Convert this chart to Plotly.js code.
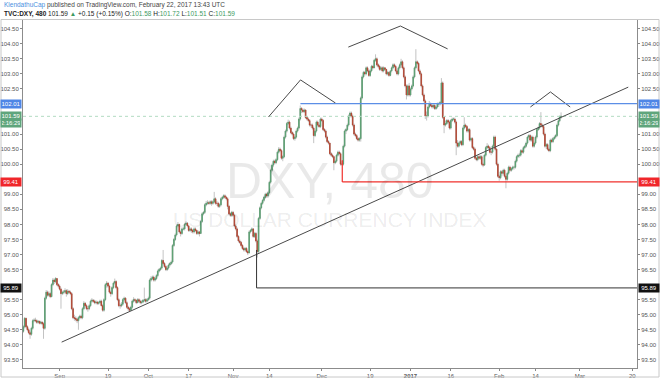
<!DOCTYPE html>
<html><head><meta charset="utf-8">
<script src="https://cdn.plot.ly/plotly-3.0.1.min.js"></script>
<style>html,body{margin:0;padding:0;background:#fff;}#chart{width:660px;height:378px;}</style>
</head><body><div id="chart"></div>
<script>
// ---- data (DXY, 8-hour bars, Aug 19 2016 -> Feb 22 2017) ----
const firstBarTime = '2016-08-19T00:00:00Z';
const barHours = 8;
const firstOpen = 94.45;
const closes = [
94.6,94.88,94.6,
94.5,94.4,94.35, 94.55,94.8,94.82, 94.8,94.75,94.78, 94.72,94.75,94.7, 94.55,95.55,95.75,
95.65,95.7,95.6, 96.0,96.15,96.1, 96.2,96.0,95.95, 95.85,95.7,95.75, 95.75,95.8,95.7,
95.78,95.75,95.7, 95.2,94.9,94.88, 94.85,94.8,94.9, 94.95,94.9,95.2, 95.38,95.3,95.2,
95.2,95.3,95.45, 95.48,95.45,95.4, 95.42,95.38,95.4, 95.45,95.3,95.15, 95.5,96.0,96.05,
95.95,95.75,95.7, 95.9,96.05,96.1, 95.9,95.5,95.3, 95.3,95.35,95.5, 95.55,95.4,95.25,
95.2,95.15,95.25, 95.45,95.5,95.48, 95.4,95.5,95.45, 95.4,95.42,95.48, 95.5,95.45,95.5,
95.55,96.15,96.2, 96.25,96.15,96.2, 96.3,96.45,96.5, 96.55,96.8,96.7, 96.6,96.5,96.55,
96.65,96.7,96.75, 97.3,97.5,97.65, 97.95,98.0,97.75, 97.7,97.85,97.85, 98.0,98.04,97.95,
97.8,97.85,97.8, 97.75,97.85,97.8, 97.7,97.75,97.7, 98.1,98.35,98.4, 98.65,98.7,98.72,
98.7,98.75,98.7, 98.75,98.85,98.7, 98.7,98.6,98.65, 98.85,98.9,98.95, 98.9,98.85,98.6,
98.35,98.3,98.4, 98.3,97.95,97.85, 97.6,97.45,97.4, 97.3,97.2,97.15, 97.2,97.1,97.05,
97.75,97.8,97.85, 97.6,97.7,97.45, 97.1,98.2,98.55, 98.7,98.8,98.9, 99.0,98.95,99.05,
99.4,99.8,99.97, 100.1,100.05,100.15, 100.4,100.5,100.45, 100.2,100.25,100.9, 101.1,101.35,101.4,
101.2,101.05,101.0, 100.85,100.9,101.1, 101.2,101.5,101.85, 101.8,101.75,101.8, 101.55,101.5,101.45,
101.3,101.3,101.2, 100.95,101.1,101.4, 101.3,101.25,101.5, 101.45,101.15,101.1, 100.9,100.75,100.7,
100.35,100.3,100.25, 100.05,100.1,100.3, 100.4,100.35,100.0, 100.0,100.6,101.1, 101.15,101.3,101.6,
101.7,101.6,101.3, 101.0,100.95,100.85, 100.8,100.85,102.2, 102.9,103.05,103.0, 103.2,103.1,102.95,
103.1,103.25,103.2, 103.45,103.5,103.3, 103.25,103.15,103.2, 103.1,103.2,103.15, 103.0,103.05,102.95,
103.1,103.2,103.3, 103.25,103.1,103.0, 103.2,103.3,103.4, 103.2,102.9,102.6, 102.3,102.6,102.3,
102.5,102.6,102.9, 103.2,103.4,103.35, 103.1,103.0,102.6, 102.3,102.1,101.6, 101.6,101.9,102.0,
101.95,101.9,101.95, 101.85,101.9,102.0, 102.0,102.05,102.7, 101.56,101.3,101.35, 101.45,101.4,101.2,
101.45,101.5,101.5, 101.4,100.7,100.6, 100.7,100.75,100.65, 101.2,101.3,101.25, 101.1,101.15,100.8,
100.85,100.55,100.5, 100.2,100.15,100.25, 100.2,100.25,100.0, 99.97,100.3,100.55, 100.6,100.55,100.4,
100.4,100.6,100.9, 100.5,100.0,99.6, 99.55,99.75,99.7, 99.8,99.6,99.5, 99.7,99.9,99.8,
99.85,99.9,99.9, 100.1,100.25,100.3, 100.3,100.45,100.4, 100.55,100.6,100.7, 100.9,100.95,100.8,
100.9,100.6,100.7, 100.9,101.15,101.2, 101.35,101.3,101.25, 101.0,100.6,100.65, 100.5,100.45,100.8,
100.75,100.85,100.9, 100.95,101.3,101.44, 101.58,101.59
];
const highs = [
94.65,94.92,94.9,
94.65,94.55,94.45, 94.6,94.85,94.88, 94.9,94.85,94.82, 94.8,94.8,94.78, 94.75,95.6,95.82,
95.8,95.78,95.75, 96.05,96.22,96.2, 96.25,96.22,96.05, 96.0,95.9,95.8, 95.82,95.88,95.85,
95.85,95.82,95.8, 95.75,95.25,95.0, 94.95,94.9,94.95, 95.0,95.0,95.25, 95.45,95.42,95.35,
95.28,95.35,95.5, 95.55,95.52,95.5, 95.48,95.46,95.45, 95.5,95.5,95.35, 95.55,96.05,96.12,
96.08,96.0,95.8, 95.95,96.1,96.2, 96.15,95.95,95.55, 95.38,95.42,95.55, 95.6,95.58,95.45,
95.3,95.25,95.3, 95.5,95.58,95.55, 95.5,95.55,95.55, 95.5,95.48,95.52, 95.9,95.55,95.55,
95.6,96.2,96.28, 96.3,96.3,96.25, 96.35,96.5,96.55, 96.6,96.85,97.15, 96.75,96.65,96.62,
96.7,96.75,96.8, 97.35,97.55,97.7, 98.0,98.08,98.02, 97.8,97.9,97.92, 98.05,98.1,98.08,
97.98,97.9,97.9, 97.85,97.9,97.9, 97.82,97.8,97.78, 98.15,98.4,98.45, 98.7,98.78,98.8,
98.78,98.8,98.8, 98.8,99.08,98.9, 98.78,98.75,98.7, 98.9,98.95,99.0, 99.0,98.95,98.9,
98.65,98.4,98.45, 98.45,98.35,98.0, 97.9,97.65,97.5, 97.45,97.35,97.25, 97.25,97.25,97.15,
97.8,97.85,97.9, 97.88,97.75,97.75, 97.5,98.25,98.6, 98.75,98.85,98.95, 99.05,99.05,99.1,
99.45,99.85,100.02, 100.15,100.15,100.2, 100.45,100.57,100.55, 100.5,100.3,100.95, 101.15,101.4,101.48,
101.45,101.25,101.1, 101.05,100.95,101.15, 101.25,101.55,101.95, 101.9,101.85,101.85, 101.82,101.6,101.55,
101.5,101.35,101.35, 101.25,101.15,101.45, 101.45,101.35,101.55, 101.55,101.5,101.2, 101.15,100.95,100.8,
100.7,100.4,100.35, 100.28,100.15,100.35, 100.45,100.45,100.4, 100.1,100.65,101.15, 101.2,101.35,101.65,
101.75,101.75,101.65, 101.35,101.05,101.0, 100.9,100.9,102.25, 102.95,103.1,103.1, 103.25,103.25,103.15,
103.15,103.3,103.3, 103.5,103.65,103.55, 103.35,103.3,103.25, 103.25,103.25,103.22, 103.15,103.1,103.08,
103.12,103.25,103.35, 103.35,103.3,103.15, 103.25,103.35,103.5, 103.45,103.25,102.95, 102.65,102.65,102.7,
102.55,102.65,102.95, 103.25,103.82,103.45, 103.4,103.15,103.05, 102.65,102.35,102.15, 101.75,101.95,102.1,
102.05,102.0,102.0, 102.0,101.95,102.05, 102.05,102.1,102.86, 102.75,101.6,101.45, 101.5,101.5,101.45,
101.5,101.55,101.55, 101.55,101.45,100.8, 100.75,100.8,100.8, 101.25,101.56,101.35, 101.3,101.2,101.2,
100.9,100.9,100.6, 100.55,100.25,100.3, 100.3,100.3,100.3, 100.05,100.35,100.6, 100.7,100.65,100.6,
100.45,100.65,100.95, 100.95,100.55,100.05, 99.65,99.8,99.8, 99.85,99.85,99.65, 99.75,99.95,99.95,
99.9,99.95,99.95, 100.15,100.3,100.35, 100.38,100.5,100.5, 100.6,100.65,100.75, 100.95,101.0,101.0,
100.95,100.95,100.75, 100.95,101.2,101.25, 101.4,101.73,101.35, 101.3,101.05,100.7, 100.7,100.55,100.85,
100.85,100.9,100.95, 101.0,101.35,101.5, 101.62,101.72
];
const lows = [
94.4,94.55,94.55,
94.45,94.35,94.2, 94.3,94.5,94.75, 94.75,94.7,94.7, 94.68,94.68,94.65, 94.2,94.5,95.5,
95.6,95.6,95.55, 95.58,95.95,96.02, 96.05,95.95,95.9, 95.8,95.2,95.65, 95.68,95.7,95.6,
95.65,95.7,95.65, 95.15,94.85,94.8, 94.78,94.72,94.5, 94.85,94.85,94.85, 95.15,95.25,95.15,
95.1,95.15,95.25, 95.4,95.4,95.35, 95.35,95.32,95.33, 95.35,95.28,95.1, 95.1,95.45,95.9,
95.9,95.7,95.6, 95.65,95.85,96.0, 95.85,95.45,95.25, 95.2,95.25,95.3, 95.45,95.35,95.2,
95.12,95.1,95.12, 95.2,95.4,95.42, 95.35,95.38,95.4, 95.35,95.35,95.38, 95.42,95.4,95.4,
95.45,95.5,96.1, 96.15,96.1,96.1, 96.15,96.25,96.4, 96.45,96.5,96.65, 96.55,96.45,96.45,
96.5,96.6,96.65, 96.7,97.25,97.45, 97.6,97.9,97.7, 97.6,97.65,97.8, 97.8,97.95,97.9,
97.75,97.75,97.72, 97.7,97.7,97.75, 97.65,97.65,97.6, 97.68,98.05,98.3, 98.35,98.6,98.65,
98.65,98.65,98.62, 98.65,98.7,98.65, 98.62,98.55,98.55, 98.6,98.8,98.85, 98.85,98.8,98.5,
98.3,98.25,98.25, 98.25,97.9,97.8, 97.55,97.4,97.35, 97.25,97.15,97.1, 97.1,97.05,96.98,
97.05,97.7,97.75, 97.55,97.55,97.4, 96.9,97.05,98.15, 98.5,98.65,98.75, 98.85,98.9,98.9,
99.0,99.35,99.75, 99.9,100.0,100.0, 100.1,100.35,100.4, 100.15,100.1,100.2, 100.85,101.05,101.3,
101.15,101.0,100.95, 100.8,100.78,100.85, 101.05,101.15,101.45, 101.7,101.7,101.7, 101.5,101.45,101.4,
101.25,101.22,101.15, 100.7,100.9,101.05, 101.25,101.2,101.2, 101.4,101.1,101.05, 100.85,100.7,100.65,
100.3,100.25,100.2, 99.8,100.0,100.05, 100.25,100.3,99.95, 99.95,99.95,100.55, 101.0,101.1,101.25,
101.55,101.55,101.25, 100.95,100.9,100.8, 100.75,100.75,100.75, 102.15,102.85,102.95, 102.95,103.05,102.9,
102.9,103.05,103.15, 103.2,103.4,103.25, 103.2,103.1,103.1, 103.05,103.05,103.1, 102.95,102.95,102.9,
102.92,103.05,103.15, 103.2,103.05,102.95, 102.95,103.15,103.25, 103.15,102.85,102.55, 102.15,102.25,102.25,
102.25,102.45,102.55, 102.85,103.15,103.3, 103.05,102.95,102.55, 102.25,102.05,101.5, 101.45,101.55,101.85,
101.9,101.85,101.85, 101.8,101.8,101.85, 101.9,101.95,102.0, 101.5,101.03,101.25, 101.3,101.35,101.15,
101.15,101.4,101.45, 101.35,100.3,100.55, 100.55,100.65,100.6, 100.6,101.15,101.2, 101.05,101.05,100.75,
100.75,100.5,100.45, 100.15,100.1,100.1, 100.15,100.15,99.95, 99.9,99.95,100.25, 100.5,100.5,100.35,
100.3,100.35,100.55, 100.45,99.95,99.55, 99.45,99.5,99.6, 99.65,99.55,99.2, 99.45,99.65,99.75,
99.75,99.8,99.82, 99.85,100.05,100.2, 100.22,100.25,100.35, 100.35,100.5,100.55, 100.65,100.85,100.75,
100.75,100.55,100.55, 100.65,100.85,101.1, 101.15,101.25,101.2, 100.95,100.55,100.5, 100.45,100.4,100.4,
100.7,100.7,100.8, 100.85,100.9,101.25, 101.4,101.51
];
const tickDates = ['2016-09-01','2016-09-19','2016-10-03','2016-10-17','2016-11-01','2016-11-14','2016-12-01','2016-12-19','2017-01-02','2017-01-16','2017-02-01','2017-02-14','2017-03-01','2017-03-20'];
const tickLabels = ['Sep','19','Oct','17','Nov','14','Dec','19','<b>2017</b>','16','Feb','14','Mar','20'];
// price-scale labels visible in the reference (those under the level tags are hidden)
const priceTicks = [93.5,94,94.5,95,95.5,96.5,97,97.5,98,98.5,99,100,100.5,101,102.5,103,103.5,104,104.5];
const resistanceLevel = 102.01;
const supportLevel = 99.41;
const targetLevel = 95.89;
const lastPrice = 101.59;
const countdown = '2:16:29';
// drawn lines (time, price)
const trendLine = {t:['2016-09-01 12:00','2017-03-17 00:00'], p:[94.09,102.56]};
const leftShoulder = {t:['2016-11-11 19:00','2016-11-23 17:30','2016-12-06 10:00'], p:[101.57,102.80,102.03]};
const headLine = {t:['2016-12-09 14:00','2016-12-28 12:00','2017-01-13 05:00'], p:[103.89,104.59,103.83]};
const rightShoulder = {t:['2017-02-10 17:30','2017-02-17 16:48','2017-02-24 14:24'], p:[101.90,102.40,101.90]};
const resistanceStart = '2016-11-23 17:00';
const supportStart = {t:'2016-12-08 02:00', p:100.13};
const targetStart = {t:'2016-11-08 20:00', p:97.15};

// ---- build ----
const times = [];
{
  let t = Date.parse(firstBarTime);
  while (times.length < closes.length) {
    const d = new Date(t);
    const wd = d.getUTCDay();
    if (wd !== 0 && wd !== 6) times.push(d.toISOString().slice(0,16).replace('T',' '));
    t += barHours * 3600e3;
  }
}
const opens = closes.map((c,i) => i === 0 ? firstOpen : closes[i-1]);
const hi = closes.map((c,i) => Math.max(highs[i], opens[i], c));
const lo = closes.map((c,i) => Math.min(lows[i], opens[i], c));
const bodyHi = closes.map((c,i) => Math.max(opens[i], c));
const bodyLo = closes.map((c,i) => Math.min(opens[i], c));

const UP = '#57a070', DOWN = '#b4432f', WICK = '#a9a9a9';
const xRange = ['2016-08-18 22:00', '2017-03-21 04:00'];
const yRange = [93.23, 104.79];
const W = 660, H = 378, ML = 23, MR = 23, MT = 20, MB = 10;
const PW = W - ML - MR, PH = H - MT - MB;
const px = X => (X - ML) / PW;
const py = Y => (H - MB - Y) / PH;
const FONT = 'Liberation Sans, Arial, sans-serif';

const traces = [
  {type:'candlestick', x:times, open:opens, high:hi, low:lo, close:closes,
   increasing:{line:{color:WICK,width:0.7}, fillcolor:WICK},
   decreasing:{line:{color:WICK,width:0.7}, fillcolor:WICK},
   hoverinfo:'skip', showlegend:false},
  {type:'candlestick', x:times, open:opens, high:bodyHi, low:bodyLo, close:closes,
   increasing:{line:{color:UP,width:0.7}, fillcolor:UP},
   decreasing:{line:{color:DOWN,width:0.7}, fillcolor:DOWN},
   hoverinfo:'skip', showlegend:false},
  {type:'scatter', x:[], y:[], yaxis:'y2', showlegend:false, hoverinfo:'skip'}
];

function seg(t0,p0,t1,p1,color,width,dash){
  return {type:'line', xref:'x', yref:'y', x0:t0, y0:p0, x1:t1, y1:p1,
          line:{color:color, width:width, dash:dash||'solid'}};
}
const shapes = [];
const LINE = '#4a4a4a';
shapes.push(seg(xRange[0], lastPrice, xRange[1], lastPrice, '#b3dbc2', 1, 'dot'));
shapes.push(seg(trendLine.t[0], trendLine.p[0], trendLine.t[1], trendLine.p[1], LINE, 1));
[leftShoulder, headLine, rightShoulder].forEach(s => {
  shapes.push(seg(s.t[0], s.p[0], s.t[1], s.p[1], LINE, 1));
  shapes.push(seg(s.t[1], s.p[1], s.t[2], s.p[2], LINE, 1));
});
shapes.push(seg(resistanceStart, resistanceLevel, xRange[1], resistanceLevel, '#5b8ee6', 1.2));
shapes.push(seg(supportStart.t, supportStart.p, supportStart.t, supportLevel, '#f0302c', 1.2));
shapes.push(seg(supportStart.t, supportLevel, xRange[1], supportLevel, '#f0302c', 1.2));
shapes.push(seg(targetStart.t, targetStart.p, targetStart.t, targetLevel, '#333333', 1));
shapes.push(seg(targetStart.t, targetLevel, xRange[1], targetLevel, '#333333', 1));
// outer frame
shapes.push({type:'rect', xref:'paper', yref:'paper', x0:px(1), x1:px(659), y0:py(377), y1:py(19.5),
             line:{color:'#c8c8c8', width:1}, fillcolor:'rgba(0,0,0,0)'});

const annotations = [];
function tag(price, text, bg, side, yshift){
  annotations.push({xref:'paper', yref:'y', x: side === 'left' ? 0 : 1, y: price,
    xanchor: side === 'left' ? 'right' : 'left', xshift: side === 'left' ? -1 : 1,
    yanchor:'middle', yshift: yshift || 0,
    text:text, showarrow:false, bgcolor:bg, borderpad:1, width:18, height:6,
    font:{family:FONT, size:6, color:'#ffffff'}});
}
['left','right'].forEach(s => {
  tag(resistanceLevel, resistanceLevel.toFixed(2), '#4f86e6', s);
  tag(lastPrice, lastPrice.toFixed(2), '#5fa57c', s);
  tag(lastPrice, countdown, '#5fa57c', s, -7);
  tag(supportLevel, supportLevel.toFixed(2), '#f0262a', s);
  tag(targetLevel, targetLevel.toFixed(2), '#111111', s);
});
// watermark
annotations.push({xref:'paper', yref:'paper', x:0.5, y:py(181), text:'DXY, 480', showarrow:false,
  font:{family:FONT, size:50, color:'rgba(0,0,0,0.085)'}, xanchor:'center', yanchor:'middle'});
annotations.push({xref:'paper', yref:'paper', x:0.5, y:py(219), text:'US DOLLAR CURRENCY INDEX', showarrow:false,
  font:{family:FONT, size:21, color:'rgba(0,0,0,0.085)'}, xanchor:'center', yanchor:'middle'});
// header
const G = '#3d9a5f';
annotations.push({xref:'paper', yref:'paper', x:px(2), y:py(5.5), xanchor:'left', yanchor:'middle', showarrow:false,
  text:'<span style="color:#4a8fe0">KlendathuCap</span> published on TradingView.com, February 22, 2017 13:43 UTC',
  font:{family:FONT, size:6.5, color:'#444'}});
annotations.push({xref:'paper', yref:'paper', x:px(2), y:py(14), xanchor:'left', yanchor:'middle', showarrow:false,
  text:'<b>TVC:DXY, 480</b> 101.59 <span style="color:'+G+'">▲</span> +0.15 (+0.15%) O:<span style="color:'+G+'">101.58</span> H:<span style="color:'+G+'">101.72</span> L:<span style="color:'+G+'">101.51</span> C:<span style="color:'+G+'">101.59</span>',
  font:{family:FONT, size:6.5, color:'#222'}});

const yAxisCommon = {range:yRange, tickmode:'array', tickvals:priceTicks, ticktext:priceTicks.map(v => v.toFixed(2)),
  ticks:'outside', ticklen:2, tickcolor:'#888', showline:true, linecolor:'#8c8c8c', linewidth:1,
  showgrid:false, zeroline:false, fixedrange:true, tickfont:{family:FONT, size:6, color:'#555'}};

const layout = {
  width:W, height:H, margin:{l:ML, r:MR, t:MT, b:MB},
  paper_bgcolor:'#ffffff', plot_bgcolor:'#ffffff', showlegend:false,
  xaxis:{type:'date', range:xRange, rangebreaks:[{pattern:'day of week', bounds:[6,1]}],
    tickmode:'array', tickvals:tickDates, ticktext:tickLabels, ticks:'outside', ticklen:2, tickcolor:'#888',
    showline:true, linecolor:'#8c8c8c', linewidth:1, mirror:true, showgrid:false, zeroline:false,
    rangeslider:{visible:false}, fixedrange:true, tickfont:{family:FONT, size:6, color:'#555'}},
  yaxis:Object.assign({side:'left'}, yAxisCommon),
  yaxis2:Object.assign({side:'right', overlaying:'y', anchor:'x'}, yAxisCommon),
  shapes:shapes, annotations:annotations
};
Plotly.newPlot('chart', traces, layout, {staticPlot:true, displayModeBar:false});
</script></body></html>
